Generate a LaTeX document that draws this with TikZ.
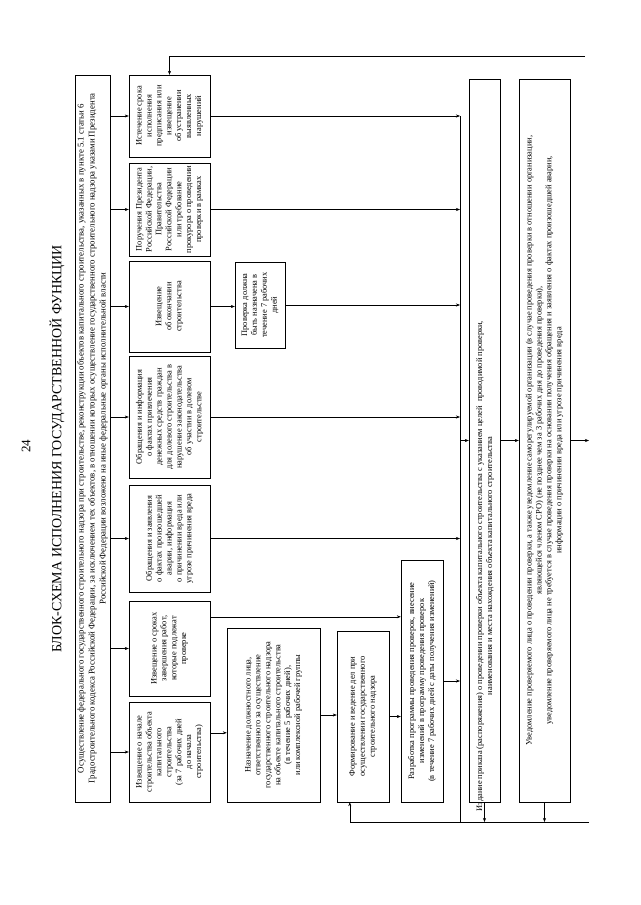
\documentclass[tikz,border=0pt]{standalone}
\usepackage{fontspec}
\setmainfont{Liberation Serif}
\usepackage{tikz}
\usetikzlibrary{arrows.meta,calc}

\begin{document}
\begin{tikzpicture}[x=1pt,y=-1pt,
  txt/.style={rotate=90,align=center,inner sep=1pt,font=\fontsize{8.4}{9.9}\selectfont},
  blk/.style={txt,draw,thin},
  arr/.style={thin,-{Stealth[length=4pt,width=3pt]}}]
  \useasboundingbox (0,0) rectangle (640,905);
  \node[rotate=90,font=\fontsize{13}{15}\selectfont] (pnum) at (26,446) {24};
  \node[rotate=90,font=\fontsize{14}{16}\selectfont] (title) at (57,449)
    {БЛОК-СХЕМА ИСПОЛНЕНИЯ ГОСУДАРСТВЕННОЙ ФУНКЦИИ};
  \node[blk,minimum width=727pt,minimum height=35pt,font=\fontsize{8.8}{11}\selectfont] (hdr) at (92.5,438.5)
    {Осуществление федерального государственного строительного надзора при строительстве, реконструкции объектов капитального строительства, указанных в пункте 5.1 статьи 6\\
     Градостроительного кодекса Российской Федерации, за исключением тех объектов, в отношении которых осуществление государственного строительного надзора указами Президента\\
     Российской Федерации возложено на иные федеральные органы исполнительной власти};
  \node[blk,minimum width=82pt,minimum height=81pt] (b1) at (169.5,116)
    {Истечение срока\\ исполнения\\ предписания или\\ извещение\\ об устранении\\ выявленных\\ нарушений};
  \node[blk,minimum width=93pt,minimum height=81pt] (b2) at (169.5,209.5)
    {Поручения Президента\\ Российской Федерации,\\ Правительства\\ Российской Федерации\\ или требование\\ прокурора о проведении\\ проверки в рамках};
  \node[blk,minimum width=91pt,minimum height=81pt] (b3) at (169.5,306.5)
    {Извещение\\ об окончании\\ строительства};
  \node[blk,minimum width=122pt,minimum height=81pt] (b4) at (169.5,417)
    {Обращения и информация\\ о фактах привлечения\\ денежных средств граждан\\ для долевого строительства в\\ нарушение законодательства\\ об участии в долевом\\ строительстве};
  \node[blk,minimum width=107pt,minimum height=81pt] (b5) at (169.5,538.5)
    {Обращения и заявления\\ о фактах произошедшей\\ аварии, информация\\ о причинении вреда или\\ угрозе причинения вреда};
  \node[blk,minimum width=95pt,minimum height=81pt] (b6) at (169.5,648.5)
    {Извещение о сроках\\ завершения работ,\\ которые подлежат\\ проверке};
  \node[blk,minimum width=100pt,minimum height=81pt] (b7) at (169.5,752)
    {Извещение о начале\\ строительства объекта\\ капитального\\ строительства\\ (за 7 рабочих дней\\ до начала\\ строительства)};
  \node[blk,minimum width=86pt,minimum height=50pt] (prov) at (260,305)
    {Проверка должна\\ быть назначена в\\ течение 7 рабочих\\ дней};
  \node[blk,minimum width=174pt,minimum height=93pt] (nazn) at (273.5,715)
    {Назначение должностного лица,\\ ответственного за осуществление\\ государственного строительного надзора\\ на объекте капитального строительства\\ (в течение 5 рабочих дней),\\ или комплексной рабочей группы};
  \node[blk,minimum width=171pt,minimum height=52pt] (form) at (363,716.5)
    {Формирование и ведение дел при\\ осуществлении государственного\\ строительного надзора};
  \node[blk,minimum width=242pt,minimum height=42pt] (razr) at (422,681)
    {Разработка программы проведения проверок, внесение\\ изменений в программу проведения проверок\\ (в течение 7 рабочих дней с даты получения изменений)};
  \node[blk,minimum width=723pt,minimum height=31pt] (izd) at (484.5,440.5) {};
  \node[txt] (izdtxt) at (485,566)
    {Издание приказа (распоряжения) о проведении проверки объекта капитального строительства с указанием целей \ проводимой проверки,\\
     наименования и места нахождения объекта капитального строительства};
  \node[blk,minimum width=723pt,minimum height=51pt] (uved) at (544.5,440.5)
    {Уведомление проверяемого лица о проведении проверки, а также уведомление саморегулируемой организации (в случае проведения проверки в отношении организации,\\
     являющейся членом СРО) (не позднее чем за 3 рабочих дня до проведения проверки),\\
     уведомление проверяемого лица не требуется в случае проведения проверки на основании получения обращения и заявления о фактах произошедшей аварии,\\
     информации о причинении вреда или угрозе причинения вреда};
  \coordinate (bus) at (460,0);
  \coordinate (topR) at (585,56);
  \coordinate (botR) at (589,822);
  \coordinate (outR) at (589,0);
  \foreach \n in {1,...,7}
    \draw[arr] (hdr.south |- b\n.north) -- (b\n.north);
  \foreach \n in {1,2,4,5}
    \draw[arr] (b\n.south) -- (bus |- b\n.south);
  \draw[arr] (topR) -| (b1.east);
  \draw[arr] (b3.south) -- (prov.north |- b3.south);
  \draw[arr] (prov.south) -- (bus |- prov.south);
  \draw[arr] ($(b6.south east)+(0,16)$) coordinate (r6) -- (razr.north |- r6);
  \draw[arr] ($(b7.south east)+(0,31)$) coordinate (r7) -- (nazn.north |- r7);
  \draw[arr] (nazn.south) -- (form.north |- nazn.south);
  \draw[arr] (form.south) -- (razr.north |- form.south);
  \draw[arr] (razr.south) -- (bus |- razr.south);
  \draw[thin] (bus |- b1.south) -- (bus |- botR);
  \draw[arr] (bus |- izd.north) -- (izd.north);
  \draw[arr] (izd.south) -- (uved.north);
  \draw[arr] (uved.south) -- (uved.south -| outR);
  \draw[arr] (izd.west) -- (izd.west |- botR);
  \draw[arr] (uved.west) -- (uved.west |- botR);
  \draw[arr] (botR) -| ($(form.north west)+(13,0)$);
\end{tikzpicture}
\end{document}
